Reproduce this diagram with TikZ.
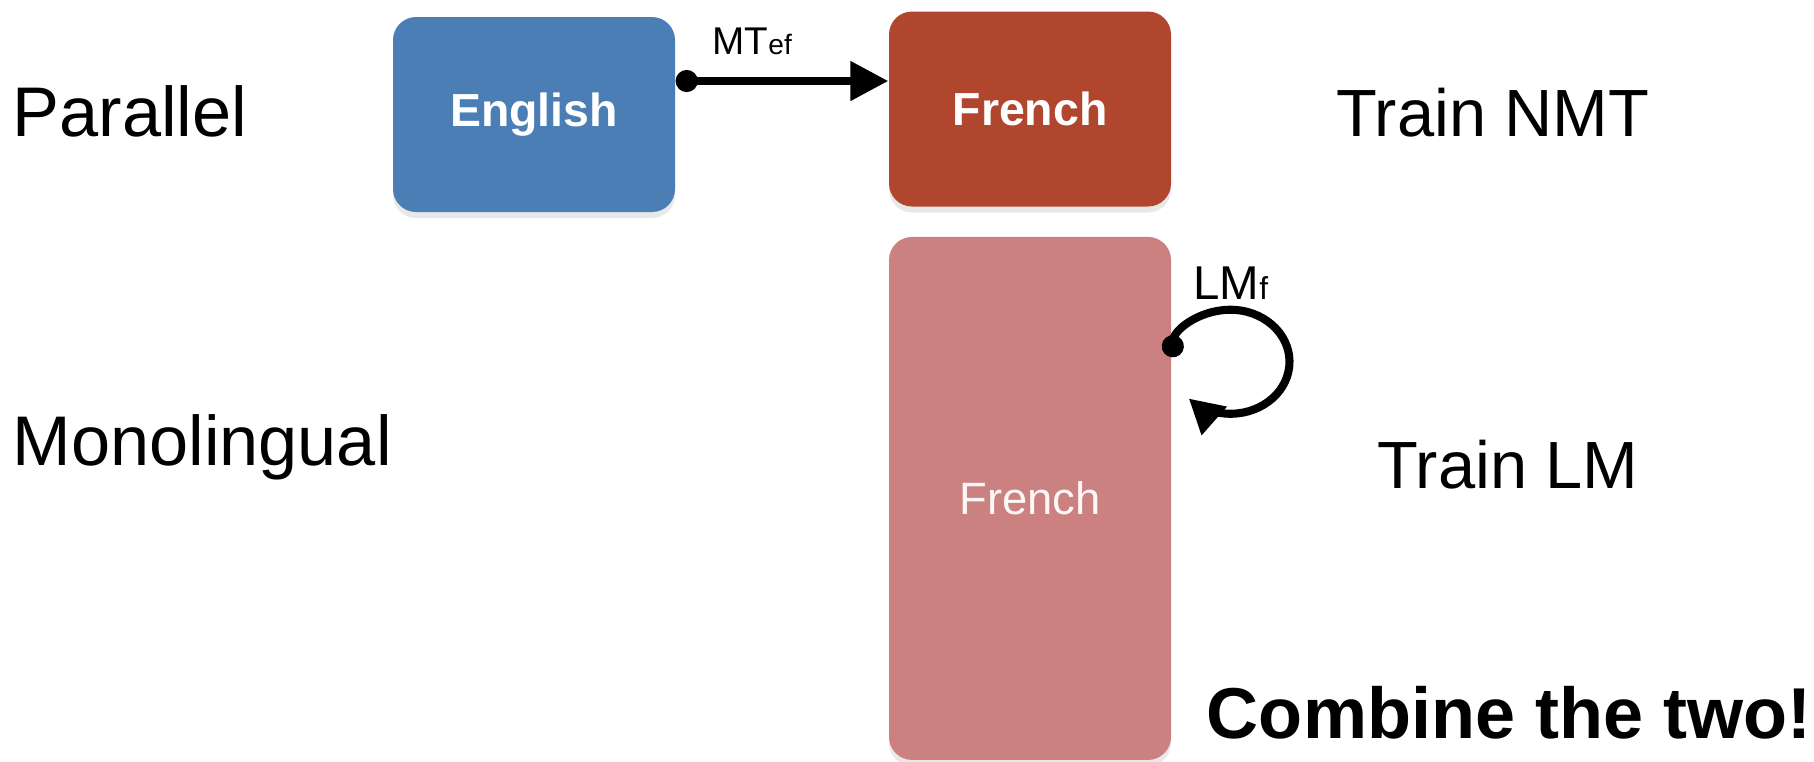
\documentclass[tikz,border=0pt]{standalone}
\usepackage{fontspec}
\setmainfont{Liberation Sans}
\usetikzlibrary{positioning, calc, arrows.meta, shadows}

\definecolor{enblue}{RGB}{74,126,181}
\definecolor{frred}{RGB}{176,70,46}
\definecolor{frpink}{RGB}{202,129,127}

\begin{document}
\begin{tikzpicture}[
  box/.style   = {rounded corners=2.3mm, minimum width=2.82cm, minimum height=1.95cm,
                  text=white, font=\fontsize{13.2}{15}\selectfont\bfseries,
                  drop shadow={shadow xshift=0pt, shadow yshift=-0.6mm, opacity=0.18}},
  side/.style  = {font=\fontsize{20}{23}\selectfont, anchor=base west, inner xsep=0pt},
  task/.style  = {font=\fontsize{19}{22}\selectfont, anchor=base},
  arr/.style   = {{Circle[length=2.2mm]}-{Triangle[length=3.8mm, width=3.8mm]}, line width=2.3pt},
]
\useasboundingbox (0,0) rectangle (18.14,-7.61);

% ---- the data ---------------------------------------------------------------
\node[box, fill=enblue] (en) at (5.34,-1.145) {English};
\node[box, fill=frred]  (fr) at (10.30,-1.09) {French};
\node[box, fill=frpink, minimum height=5.23cm, below=0.29cm of fr,
      font=\fontsize{12.9}{15}\selectfont, text=white!94!frpink] (fm) {French};

% ---- row and task labels ----------------------------------------------------
\node[side] (par)  at (0.12,-1.365) {Parallel};
\node[side] (mono) at (0.12,-4.65)  {Monolingual};
\node[task] (nmt)  at (14.93,-1.365) {Train NMT};
\node[task] (lm)   at (15.08,-4.88)  {Train LM};
\node[font=\fontsize{20.5}{24}\selectfont\bfseries, anchor=base east, inner xsep=0pt] (comb) at (18.12,-7.38) {Combine the two!};

% ---- translation model ------------------------------------------------------
\coordinate (mtstart) at ($(en.east)+(0,0.335)$);
\draw[arr] (mtstart) -- (mtstart -| fr.west)
  node[pos=0.36, above=1mm, font=\fontsize{11}{13}\selectfont] (mt) {MT{\fontsize{8}{9}\selectfont ef}};

% ---- language model loop ----------------------------------------------------
\coordinate (lmstart) at ($(fm.north east)+(0,-1.21)$);
\draw[arr, {Circle[length=2.2mm]}-{Triangle[length=3.4mm, width=3.6mm]}]
  (lmstart) arc[start angle=175, end angle=-135, x radius=0.59cm, y radius=0.52cm];
\node[font=\fontsize{13.5}{16}\selectfont, anchor=base] (lmf) at ($(lmstart)+(0.59,0.58)$) {LM{\fontsize{9}{10}\selectfont f}};

\end{tikzpicture}
\end{document}
